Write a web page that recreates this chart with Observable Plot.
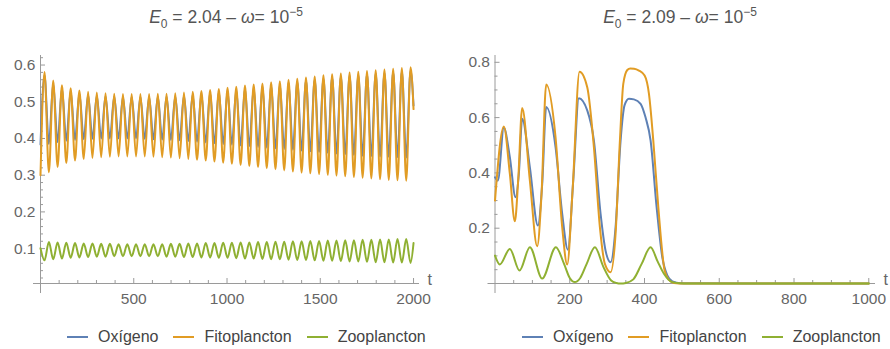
<!DOCTYPE html>
<html><head><meta charset="utf-8">
<script src="https://cdn.jsdelivr.net/npm/d3@7"></script>
<script src="https://cdn.jsdelivr.net/npm/@observablehq/plot@0.6"></script>
<style>
body{margin:0;background:#fff;font-family:"Liberation Sans",Arial,sans-serif;}
#wrap{position:relative;width:890px;height:349px;overflow:hidden;}
.panel{position:absolute;top:0;width:445px;height:349px;}
.panel svg{position:absolute;left:0;top:0;}
.title{position:absolute;top:6px;font-size:17.5px;line-height:22px;color:#555;white-space:nowrap;transform:translateX(-50%);}
.title sub,.title sup{font-size:12px;line-height:0;}
.legend{position:absolute;top:327px;display:flex;align-items:center;font-size:16px;line-height:20px;color:#444;white-space:nowrap;}
.sw{display:inline-block;width:21px;height:2px;margin-right:10px;}
.item{display:flex;align-items:center;margin-right:15px;}
</style></head><body><div id="wrap"></div>
<script>
// ---------- data ----------
const seriesNames = ["Oxígeno", "Fitoplancton", "Zooplancton"];
const seriesColors = ["#5E81B5", "#E19C24", "#8FB032"];

// Left panel (E0 = 2.04): times of phytoplankton peaks and troughs
const leftPeakT = [21.5, 68.2, 115.0, 161.7, 208.4, 255.2, 301.9, 348.6, 395.3, 442.1, 488.8, 535.5, 582.3, 629.0, 675.7, 722.5, 769.2, 815.9, 862.6, 909.4, 956.1, 1002.8, 1049.6, 1096.3, 1143.0, 1189.8, 1236.5, 1283.2, 1329.9, 1376.7, 1423.4, 1470.1, 1516.9, 1563.6, 1610.3, 1657.1, 1703.8, 1750.5, 1797.2, 1844.0, 1890.7, 1937.4, 1984.2];
const leftTroughT = [44.9, 91.6, 138.3, 185.1, 231.8, 278.5, 325.3, 372.0, 418.7, 465.4, 512.2, 558.9, 605.6, 652.4, 699.1, 745.8, 792.5, 839.3, 886.0, 932.7, 979.5, 1026.2, 1072.9, 1119.6, 1166.4, 1213.1, 1259.8, 1306.6, 1353.3, 1400.0, 1446.7, 1493.5, 1540.2, 1586.9, 1633.7, 1680.4, 1727.1, 1773.8, 1820.6, 1867.3, 1914.0, 1960.8];
const leftStartT = 0, leftEndT = 2000;

const fitoLeftPeaks = [0.581, 0.558, 0.545, 0.537, 0.531, 0.527, 0.525, 0.523, 0.522, 0.521, 0.521, 0.521, 0.521, 0.522, 0.522, 0.523, 0.525, 0.527, 0.529, 0.532, 0.535, 0.538, 0.541, 0.544, 0.547, 0.550, 0.553, 0.556, 0.560, 0.563, 0.566, 0.569, 0.572, 0.575, 0.577, 0.580, 0.582, 0.584, 0.586, 0.588, 0.590, 0.592, 0.594];
const fitoLeftTroughs = [0.308, 0.322, 0.333, 0.340, 0.344, 0.347, 0.349, 0.350, 0.351, 0.351, 0.351, 0.351, 0.350, 0.349, 0.348, 0.346, 0.344, 0.342, 0.340, 0.337, 0.334, 0.331, 0.328, 0.325, 0.322, 0.319, 0.316, 0.313, 0.310, 0.307, 0.305, 0.303, 0.301, 0.299, 0.297, 0.295, 0.293, 0.291, 0.289, 0.287, 0.286, 0.285];
const fitoLeftStart = 0.30, fitoLeftEnd = 0.48;

const oxLeftPeaks = [0.572, 0.550, 0.537, 0.529, 0.523, 0.519, 0.517, 0.515, 0.514, 0.513, 0.513, 0.513, 0.513, 0.514, 0.514, 0.515, 0.517, 0.519, 0.521, 0.524, 0.527, 0.530, 0.533, 0.536, 0.539, 0.542, 0.545, 0.548, 0.551, 0.554, 0.557, 0.560, 0.563, 0.566, 0.568, 0.571, 0.573, 0.575, 0.577, 0.579, 0.581, 0.583, 0.585];
const oxLeftTroughs = [0.385, 0.390, 0.394, 0.396, 0.398, 0.399, 0.400, 0.400, 0.400, 0.400, 0.400, 0.399, 0.398, 0.397, 0.396, 0.395, 0.393, 0.391, 0.389, 0.387, 0.385, 0.383, 0.381, 0.379, 0.377, 0.375, 0.373, 0.371, 0.369, 0.367, 0.365, 0.363, 0.361, 0.359, 0.357, 0.355, 0.353, 0.352, 0.351, 0.350, 0.349, 0.348];
const oxLeftStart = 0.384, oxLeftEnd = 0.49;

// zooplankton values at the same instants (its minima fall near phyto maxima)
const zooLeftAtPeakT = [0.068, 0.071, 0.073, 0.075, 0.076, 0.077, 0.078, 0.078, 0.079, 0.079, 0.079, 0.079, 0.079, 0.079, 0.078, 0.078, 0.077, 0.077, 0.076, 0.076, 0.075, 0.075, 0.074, 0.073, 0.073, 0.072, 0.071, 0.071, 0.070, 0.069, 0.069, 0.068, 0.067, 0.067, 0.066, 0.065, 0.065, 0.064, 0.063, 0.063, 0.062, 0.062, 0.061];
const zooLeftAtTroughT = [0.118, 0.117, 0.116, 0.115, 0.114, 0.114, 0.113, 0.113, 0.112, 0.112, 0.112, 0.112, 0.112, 0.112, 0.113, 0.113, 0.114, 0.114, 0.115, 0.115, 0.116, 0.116, 0.117, 0.117, 0.118, 0.118, 0.119, 0.119, 0.120, 0.120, 0.121, 0.121, 0.122, 0.122, 0.123, 0.123, 0.124, 0.124, 0.125, 0.125, 0.126, 0.126];
const zooLeftStart = 0.101, zooLeftEnd = 0.115;

// Right panel (E0 = 2.09)
const oxRightT = [0, 7.6, 23.6, 39.7, 54.9, 63.8, 72.7, 93.3, 114.7, 126.3, 137, 162, 179.8, 195, 209.3, 224.4, 246.8, 264.6, 282.5, 295.8, 309.2, 322.6, 336, 346.7, 358.3, 371.7, 389.5, 402.9, 416.3, 432.4, 447.6, 461, 474.4, 496.8, 700, 1000];
const oxRightV = [0.384, 0.372, 0.563, 0.457, 0.312, 0.397, 0.596, 0.42, 0.21, 0.36, 0.638, 0.493, 0.252, 0.122, 0.372, 0.670, 0.626, 0.517, 0.252, 0.119, 0.077, 0.204, 0.517, 0.645, 0.668, 0.666, 0.650, 0.6, 0.517, 0.276, 0.095, 0.029, 0.008, 0.001, 0, 0];

const fitoRightT = [0, 23.6, 39.7, 53.1, 62, 72.7, 93.3, 112.9, 124.5, 137, 162, 179.8, 193.2, 207.5, 226.2, 246.8, 264.6, 280.6, 294, 309.2, 322.6, 334.2, 343.2, 353.9, 362, 372, 385.2, 400.3, 411.9, 423.5, 436.9, 453.8, 465.4, 479, 505.6, 700, 1000];
const fitoRightV = [0.30, 0.568, 0.397, 0.225, 0.372, 0.635, 0.372, 0.135, 0.324, 0.720, 0.529, 0.204, 0.069, 0.336, 0.766, 0.71, 0.493, 0.204, 0.071, 0.041, 0.18, 0.517, 0.722, 0.772, 0.778, 0.777, 0.770, 0.752, 0.686, 0.517, 0.276, 0.047, 0.013, 0.002, 0.0, 0, 0];

const zooRightT = [0, 12.9, 39.7, 65.6, 93.3, 126.3, 162.9, 185, 200, 213.7, 228, 245, 267.3, 290, 310, 325, 336, 350, 370, 392, 416.3, 435, 452, 474, 505, 700, 1000];
const zooRightV = [0.101, 0.069, 0.125, 0.047, 0.131, 0.018, 0.131, 0.07, 0.02, 0.005, 0.02, 0.07, 0.131, 0.06, 0.012, 0.002, 0.0, 0.002, 0.015, 0.07, 0.131, 0.08, 0.035, 0.005, 0.0, 0, 0];

// axes / ticks
const leftXMajor = [500, 1000, 1500, 2000];
const leftXMinor = [100, 200, 300, 400, 600, 700, 800, 900, 1100, 1200, 1300, 1400, 1600, 1700, 1800, 1900];
const leftYMajor = [0.1, 0.2, 0.3, 0.4, 0.5, 0.6];
const leftYMinor = [0.02, 0.04, 0.06, 0.08, 0.12, 0.14, 0.16, 0.18, 0.22, 0.24, 0.26, 0.28, 0.32, 0.34, 0.36, 0.38, 0.42, 0.44, 0.46, 0.48, 0.52, 0.54, 0.56, 0.58, 0.62];
const rightXMajor = [200, 400, 600, 800, 1000];
const rightXMinor = [50, 100, 150, 250, 300, 350, 450, 500, 550, 650, 700, 750, 850, 900, 950];
const rightYMajor = [0.2, 0.4, 0.6, 0.8];
const rightYMinor = [0.05, 0.1, 0.15, 0.25, 0.3, 0.35, 0.45, 0.5, 0.55, 0.65, 0.7, 0.75];

const leftTitle = '<i>E</i><sub>0</sub> = 2.04 – <i>ω</i>= 10<sup>−5</sup>';
const rightTitle = '<i>E</i><sub>0</sub> = 2.09 – <i>ω</i>= 10<sup>−5</sup>';

// ---------- build ----------
function mergeSeries(start, peaks, troughs, end) {
  const pts = [{t: leftStartT, v: start}];
  leftPeakT.forEach((t, i) => pts.push({t, v: peaks[i]}));
  leftTroughT.forEach((t, i) => pts.push({t, v: troughs[i]}));
  pts.push({t: leftEndT, v: end});
  return pts.sort((a, b) => a.t - b.t);
}
const leftSeries = [
  mergeSeries(oxLeftStart, oxLeftPeaks, oxLeftTroughs, oxLeftEnd),
  mergeSeries(fitoLeftStart, fitoLeftPeaks, fitoLeftTroughs, fitoLeftEnd),
  mergeSeries(zooLeftStart, zooLeftAtPeakT, zooLeftAtTroughT, zooLeftEnd)
];
const zip = (T, V) => T.map((t, i) => ({t, v: V[i]}));
const rightSeries = [zip(oxRightT, oxRightV), zip(fitoRightT, fitoRightV), zip(zooRightT, zooRightV)];

const AX = "#9a9a9a", LBL = "#666";
function makePlot({xDomain, yDomain, ml, mr, xMajor, xMinor, yMajor, yMinor, series}) {
  const marks = [
    Plot.ruleY([yDomain[0]], {stroke: AX, insetLeft: -7}),
    Plot.ruleX([xDomain[0]], {stroke: AX, insetBottom: -10}),
    Plot.ruleX(xMajor, {x: d => d, y1: yDomain[0], y2: yDomain[0], insetTop: -5, stroke: AX}),
    Plot.ruleX(xMinor, {x: d => d, y1: yDomain[0], y2: yDomain[0], insetTop: -3, stroke: AX}),
    Plot.ruleY(yMajor, {y: d => d, x1: xDomain[0], x2: xDomain[0], insetRight: -5, stroke: AX}),
    Plot.ruleY(yMinor, {y: d => d, x1: xDomain[0], x2: xDomain[0], insetRight: -3, stroke: AX}),
    Plot.axisX({ticks: xMajor, tickSize: 0, tickPadding: 9, fontSize: 15.5, fill: LBL, tickFormat: d => String(d), label: null}),
    Plot.axisY({ticks: yMajor, tickSize: 0, tickPadding: 5, fontSize: 15.5, fill: LBL, tickFormat: d => d.toFixed(1), label: null}),
    Plot.text(["t"], {text: d => d, frameAnchor: "bottom-right", dx: 8, dy: 1, textAnchor: "start", fontSize: 16, fill: LBL}),
    ...series.map((s, i) => Plot.line(s, {x: "t", y: "v", stroke: seriesColors[i], strokeWidth: 2, curve: "monotone-x"}))
  ];
  return Plot.plot({
    width: 445, height: 320, marginTop: 55, marginBottom: 37, marginLeft: ml, marginRight: mr,
    style: {fontFamily: "'Liberation Sans', Arial, sans-serif", background: "transparent", overflow: "visible"},
    x: {domain: xDomain, label: null},
    y: {domain: yDomain, label: null},
    marks
  });
}

function addPanel(left, titleHtml, titleX, legendX, plot) {
  const p = document.createElement("div");
  p.className = "panel"; p.style.left = left + "px";
  p.appendChild(plot);
  const t = document.createElement("div");
  t.className = "title"; t.style.left = titleX + "px"; t.innerHTML = titleHtml;
  p.appendChild(t);
  const lg = document.createElement("div");
  lg.className = "legend"; lg.style.left = legendX + "px";
  seriesNames.forEach((n, i) => {
    const it = document.createElement("span"); it.className = "item";
    const sw = document.createElement("span"); sw.className = "sw"; sw.style.background = seriesColors[i];
    it.appendChild(sw); it.appendChild(document.createTextNode(n));
    lg.appendChild(it);
  });
  p.appendChild(lg);
  document.getElementById("wrap").appendChild(p);
}

addPanel(0, leftTitle, 226, 67, makePlot({
  xDomain: [0, 2032], yDomain: [0.005, 0.626], ml: 40, mr: 26,
  xMajor: leftXMajor, xMinor: leftXMinor, yMajor: leftYMajor, yMinor: leftYMinor, series: leftSeries
}));
addPanel(445, rightTitle, 235, 77, makePlot({
  xDomain: [0, 1018], yDomain: [0, 0.8246], ml: 49.5, mr: 15,
  xMajor: rightXMajor, xMinor: rightXMinor, yMajor: rightYMajor, yMinor: rightYMinor, series: rightSeries
}));
</script></body></html>
